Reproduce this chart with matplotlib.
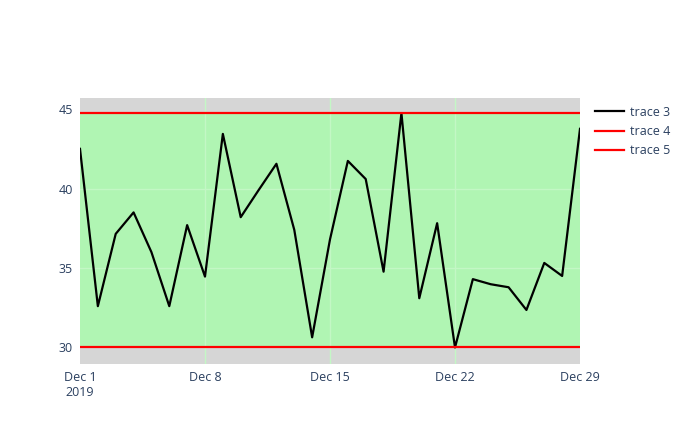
import matplotlib
matplotlib.use("Agg")
import matplotlib.pyplot as plt
import matplotlib.dates as mdates
import numpy as np
import pandas as pd

dates = pd.date_range("2019-12-01", "2019-12-29", freq="D")
values = [42.5, 32.6, 37.15, 38.5, 36.0, 32.6, 37.7, 34.46, 43.44, 38.2,
          39.9, 41.56, 37.4, 30.64, 36.8, 41.74, 40.6, 34.77, 44.75, 33.1,
          37.82, 30.0, 34.3, 33.98, 33.79, 32.36, 35.32, 34.5, 43.76]
upper = [max(values)] * len(dates)
lower = [min(values)] * len(dates)
series_names = ["trace 3", "trace 4", "trace 5"]
x_ticks = ["2019-12-01", "2019-12-08", "2019-12-15", "2019-12-22", "2019-12-29"]
x_ticklabels = ["Dec 1\n2019", "Dec 8", "Dec 15", "Dec 22", "Dec 29"]
y_ticks = [30, 35, 40, 45]

plt.rcParams['font.family'] = ['Open Sans', 'DejaVu Sans']
txt = '#2a3f5f'

fig = plt.figure(figsize=(6.9, 4.43), dpi=100)
ax = fig.add_axes([80/690, 79/443, 500/690, 266/443])
ax.set_facecolor('#d6d6d6')

ax.fill_between(dates, lower, upper, color='#b0f5b3', zorder=1, linewidth=0)
for t in pd.to_datetime(x_ticks[1:-1]):
    ax.axvline(t, color='#c3f7c5', lw=1, zorder=1.5)
for v in [35, 40]:
    ax.axhline(v, color='#c3f7c5', lw=1, zorder=1.5)

ax.plot(dates, values, color='black', lw=1.6, zorder=3, label=series_names[0])
ax.plot(dates, upper, color='red', lw=1.6, zorder=3, label=series_names[1])
ax.plot(dates, lower, color='red', lw=1.6, zorder=3, label=series_names[2])

ax.set_xlim(dates[0], dates[-1])
ax.set_ylim(28.96, 45.7)
ax.set_xticks(pd.to_datetime(x_ticks))
ax.set_xticklabels(x_ticklabels, color=txt, fontsize=9)
ax.set_yticks(y_ticks)
ax.set_yticklabels([str(v) for v in y_ticks], color=txt, fontsize=9)
ax.tick_params(length=0, pad=5)
for s in ax.spines.values():
    s.set_visible(False)

leg = ax.legend(loc='upper left', bbox_to_anchor=(1.02, 0.99), frameon=False,
                fontsize=9, handlelength=2.3, handletextpad=0.5,
                labelspacing=0.5, borderaxespad=0)
for t in leg.get_texts():
    t.set_color(txt)

fig.savefig("out.png", dpi=100)
